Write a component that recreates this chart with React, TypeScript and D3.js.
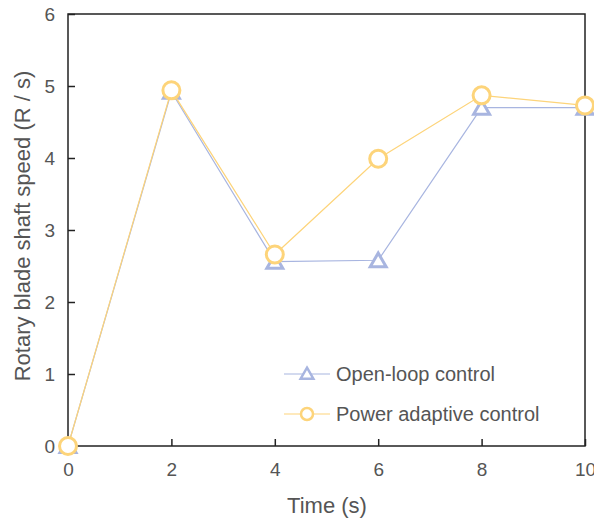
import React, { useEffect, useRef } from 'react';
import * as d3 from 'd3';

// chart data
const times = [0, 2, 4, 6, 8, 10];
const openLoop = [0, 4.92, 2.56, 2.58, 4.7, 4.7];
const powerAdaptive = [0, 4.94, 2.66, 3.99, 4.87, 4.73];
const xTicks = [0, 2, 4, 6, 8, 10];
const yTicks = [0, 1, 2, 3, 4, 5, 6];
const seriesNames = ['Open-loop control', 'Power adaptive control'];

const BLUE = '#a8b5e0';
const YELLOW = '#fdd47a';
const FONT = '"Liberation Sans", Arial, sans-serif';

const App = () => {
    const ref = useRef<SVGSVGElement>(null);

    useEffect(() => {
        const svg = d3.select(ref.current);
        svg.selectAll('*').remove();

        const left = 68, right = 585, top = 14, bottom = 446;
        const x = d3.scaleLinear().domain([0, 10]).range([left, right]);
        const y = d3.scaleLinear().domain([0, 6]).range([bottom, top]);

        // frame
        svg.append('rect')
            .attr('x', left).attr('y', top)
            .attr('width', right - left).attr('height', bottom - top)
            .attr('fill', 'none').attr('stroke', '#222').attr('stroke-width', 1.5);

        // axes with inward ticks
        const xAxis = svg.append('g')
            .attr('transform', `translate(0,${bottom})`)
            .call(d3.axisBottom(x).tickValues(xTicks).tickFormat(d3.format('d'))
                .tickSizeInner(-7).tickSizeOuter(0).tickPadding(17));
        const yAxis = svg.append('g')
            .attr('transform', `translate(${left},0)`)
            .call(d3.axisLeft(y).tickValues(yTicks).tickFormat(d3.format('d'))
                .tickSizeInner(-7).tickSizeOuter(0).tickPadding(13));
        [xAxis, yAxis].forEach(a => {
            a.select('.domain').remove();
            a.selectAll('line').attr('stroke', '#222').attr('stroke-width', 1.5);
            a.selectAll('text')
                .attr('fill', '#555')
                .style('font-family', FONT)
                .style('font-size', '19px');
        });

        const line = d3.line<number>()
            .x((_, i) => x(times[i]))
            .y(d => y(d));

        const triangle = d3.symbol().type(d3.symbolTriangle).size(110);

        // open-loop series
        svg.append('path')
            .datum(openLoop)
            .attr('fill', 'none').attr('stroke', BLUE).attr('stroke-width', 1.2)
            .attr('d', line);
        svg.selectAll('.tri')
            .data(openLoop)
            .enter().append('path')
            .attr('class', 'tri')
            .attr('transform', (d, i) => `translate(${x(times[i])},${y(d) + 2})`)
            .attr('d', triangle)
            .attr('fill', 'white').attr('stroke', BLUE).attr('stroke-width', 3);

        // power adaptive series
        svg.append('path')
            .datum(powerAdaptive)
            .attr('fill', 'none').attr('stroke', YELLOW).attr('stroke-width', 1.2)
            .attr('d', line);
        svg.selectAll('.dot')
            .data(powerAdaptive)
            .enter().append('circle')
            .attr('class', 'dot')
            .attr('cx', (_, i) => x(times[i]))
            .attr('cy', d => y(d))
            .attr('r', 8.5)
            .attr('fill', 'white').attr('stroke', YELLOW).attr('stroke-width', 3);

        // legend
        const legend = svg.append('g');
        seriesNames.forEach((name, i) => {
            const ly = 374 + i * 40;
            const color = i === 0 ? BLUE : YELLOW;
            legend.append('line')
                .attr('x1', 284).attr('x2', 330).attr('y1', ly).attr('y2', ly)
                .attr('stroke', color).attr('stroke-width', 1.2);
            if (i === 0) {
                legend.append('path')
                    .attr('transform', `translate(307,${ly + 1})`)
                    .attr('d', d3.symbol().type(d3.symbolTriangle).size(70))
                    .attr('fill', 'white').attr('stroke', color).attr('stroke-width', 2.5);
            } else {
                legend.append('circle')
                    .attr('cx', 307).attr('cy', ly).attr('r', 6)
                    .attr('fill', 'white').attr('stroke', color).attr('stroke-width', 2.5);
            }
            legend.append('text')
                .attr('x', 336).attr('y', ly)
                .attr('dy', '0.35em')
                .attr('fill', '#555')
                .style('font-family', FONT)
                .style('font-size', '20px')
                .text(name);
        });

        // axis titles
        svg.append('text')
            .attr('x', 327)
            .attr('y', 513)
            .attr('text-anchor', 'middle')
            .attr('fill', '#555')
            .style('font-family', FONT)
            .style('font-size', '22px')
            .text('Time (s)');

        svg.append('text')
            .attr('transform', `translate(30,226) rotate(-90)`)
            .attr('text-anchor', 'middle')
            .attr('fill', '#555')
            .style('font-family', FONT)
            .style('font-size', '22px')
            .text('Rotary blade shaft speed (R / s)');
    }, []);

    return (
        <svg ref={ref} width={594} height={521}
            style={{ position: 'absolute', left: 0, top: 0, background: 'white' }} />
    );
};

export default App;
